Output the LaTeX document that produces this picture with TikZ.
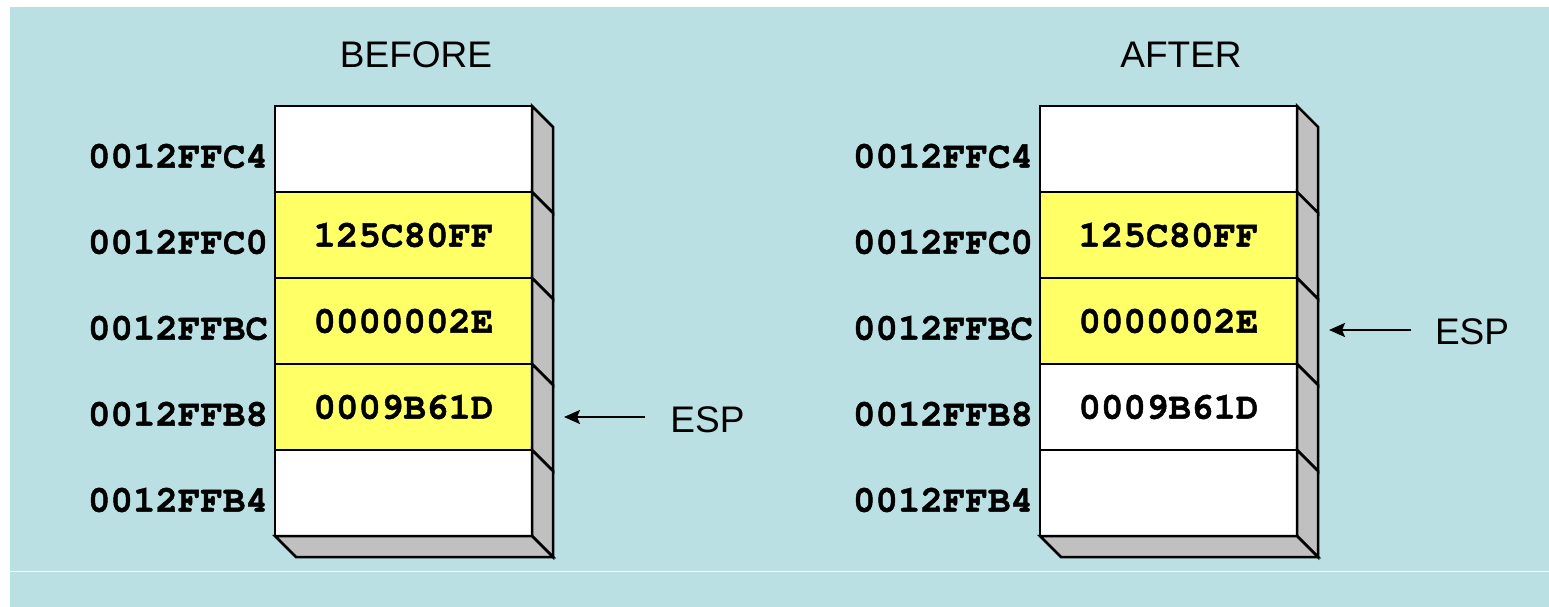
\documentclass[tikz,border=0pt]{standalone}
\usepackage{fontspec}
\setmainfont{Liberation Sans}
\newfontfamily\monofont[BoldFeatures={FakeBold=1.2}]{TeX Gyre Cursor}
\usetikzlibrary{arrows.meta}
\definecolor{panel}{HTML}{BBE0E3}
\definecolor{slot}{HTML}{FFFF66}
\definecolor{shade}{HTML}{C0C0C0}
\tikzset{
  cell/.style={draw=black, line width=2.5pt, fill=white, minimum width=257pt,
    minimum height=86pt, inner sep=0pt, outer sep=0pt,
    font=\monofont\bfseries\fontsize{37.5}{40}\selectfont},
  used/.style={cell, fill=slot},
  addr/.style={anchor=east, inner sep=0pt, outer sep=0pt,
    font=\monofont\bfseries\fontsize{37.5}{40}\selectfont},
  face/.style={draw=black, line width=2.5pt, fill=shade, line join=miter},
  heading/.style={font=\fontsize{37}{40}\selectfont, inner sep=0pt},
  pointer/.style={line width=2.2pt, -{Stealth[length=16pt,width=14pt,inset=3pt]}},
}
\begin{document}
\begin{tikzpicture}[x=1pt,y=-1pt]
\useasboundingbox (0,0) rectangle (1549,607);
\fill[panel] (10,7) rectangle (1549,607);
\draw[white, line width=1pt] (10,571) -- (1549,571);

% headings
\node[heading] (before) at (416,54.5) {BEFORE};
\node[heading] (after) at (1181,54.5) {AFTER};

% stack before the pop
\node[cell] (L1) at (403.5,149) {};
\node[used] (L2) at (403.5,235) {125C80FF};
\node[used] (L3) at (403.5,321) {0000002E};
\node[used] (L4) at (403.5,407) {0009B61D};
\node[cell] (L5) at (403.5,493) {};

% stack after the pop
\node[cell] (R1) at (1168.5,149) {};
\node[used] (R2) at (1168.5,235) {125C80FF};
\node[used] (R3) at (1168.5,321) {0000002E};
\node[cell] (R4) at (1168.5,407) {0009B61D};
\node[cell] (R5) at (1168.5,493) {};

% shaded side and bottom faces
\foreach \c in {L1,L2,L3,L4,L5,R1,R2,R3,R4,R5}
  \draw[face] (\c.north east) -- ++(21,21) -- ++(0,86) -- (\c.south east) -- cycle;
\draw[face] (L5.south west) -- ++(21,21) -- ++(257,0) -- (L5.south east) -- cycle;
\draw[face] (R5.south west) -- ++(21,21) -- ++(257,0) -- (R5.south east) -- cycle;

% addresses
\foreach \s in {L,R} {
  \node[addr] (\s a1) at ([xshift=-7pt,yshift=-7pt]\s1.west) {0012FFC4};
  \node[addr] (\s a2) at ([xshift=-7pt,yshift=-7pt]\s2.west) {0012FFC0};
  \node[addr] (\s a3) at ([xshift=-7pt,yshift=-7pt]\s3.west) {0012FFBC};
  \node[addr] (\s a4) at ([xshift=-7pt,yshift=-7pt]\s4.west) {0012FFB8};
  \node[addr] (\s a5) at ([xshift=-7pt,yshift=-7pt]\s5.west) {0012FFB4};
}

% stack pointer
\node[heading] (espL) at (707.5,420) {ESP};
\coordinate (tipL) at (564,417);
\draw[pointer] ([xshift=-25pt,yshift=3pt]espL.west) -- (tipL);

\node[heading] (espR) at (1472,332) {ESP};
\coordinate (tipR) at (1329,330);
\draw[pointer] ([xshift=-24pt,yshift=2pt]espR.west) -- (tipR);
\end{tikzpicture}
\end{document}
